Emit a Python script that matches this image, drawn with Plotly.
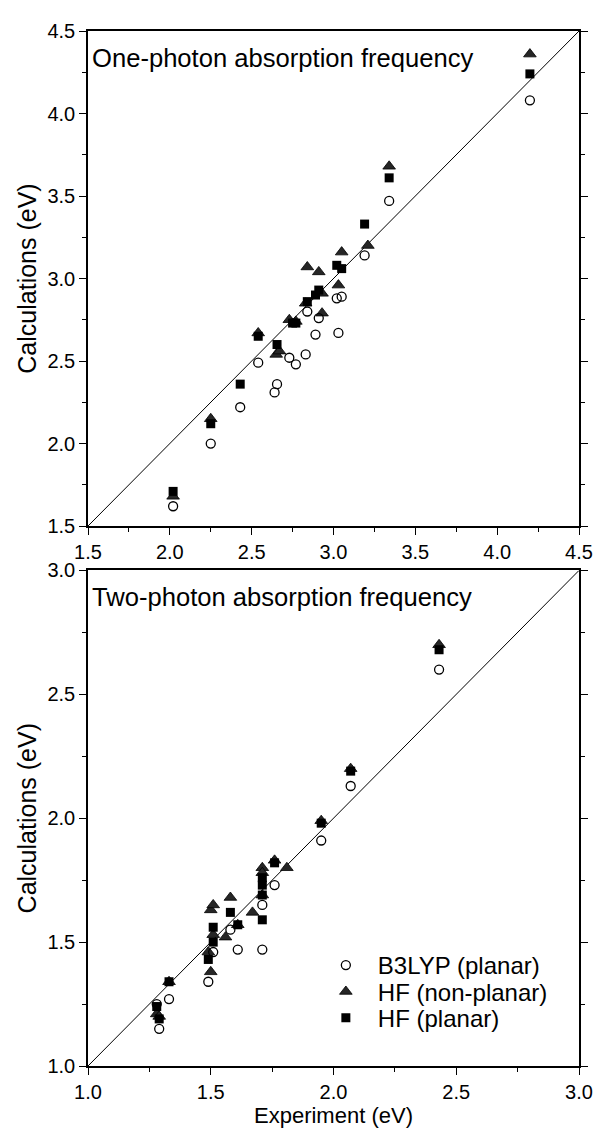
import plotly.graph_objects as go

# one-photon absorption (top panel): experiment vs calculated, eV
one_b3lyp_x = [2.02, 2.25, 2.43, 2.54, 2.655, 2.64, 2.73, 2.77, 2.83, 2.89, 2.84, 2.91, 3.02, 3.05, 3.03, 3.19, 3.34, 4.20]
one_b3lyp_y = [1.62, 2.00, 2.22, 2.49, 2.36, 2.31, 2.52, 2.48, 2.54, 2.66, 2.80, 2.76, 2.88, 2.89, 2.67, 3.14, 3.47, 4.08]
one_hfnp_x = [2.02, 2.25, 2.54, 2.65, 2.67, 2.73, 2.77, 2.83, 2.84, 2.91, 2.93, 2.93, 3.05, 3.03, 3.21, 3.34, 4.20]
one_hfnp_y = [1.68, 2.15, 2.67, 2.54, 2.56, 2.75, 2.74, 2.85, 3.07, 3.04, 2.91, 2.79, 3.16, 2.96, 3.20, 3.68, 4.36]
one_hfp_x = [2.02, 2.25, 2.43, 2.54, 2.655, 2.75, 2.77, 2.84, 2.89, 2.91, 3.02, 3.05, 3.19, 3.34, 4.20]
one_hfp_y = [1.71, 2.12, 2.36, 2.65, 2.60, 2.73, 2.73, 2.86, 2.90, 2.93, 3.08, 3.06, 3.33, 3.61, 4.24]

# two-photon absorption (bottom panel)
two_b3lyp_x = [1.29, 1.28, 1.33, 1.49, 1.51, 1.58, 1.61, 1.71, 1.71, 1.76, 1.95, 2.07, 2.43]
two_b3lyp_y = [1.15, 1.25, 1.27, 1.34, 1.46, 1.55, 1.47, 1.47, 1.65, 1.73, 1.91, 2.13, 2.60]
two_hfnp_x = [1.28, 1.29, 1.33, 1.49, 1.50, 1.50, 1.51, 1.51, 1.56, 1.58, 1.61, 1.67, 1.71, 1.71, 1.71, 1.76, 1.81, 1.95, 2.07, 2.43]
two_hfnp_y = [1.21, 1.20, 1.34, 1.46, 1.38, 1.63, 1.65, 1.53, 1.52, 1.68, 1.57, 1.62, 1.80, 1.78, 1.69, 1.83, 1.80, 1.99, 2.20, 2.70]
two_hfp_x = [1.28, 1.29, 1.33, 1.49, 1.51, 1.51, 1.58, 1.61, 1.71, 1.71, 1.71, 1.71, 1.76, 1.95, 2.07, 2.43]
two_hfp_y = [1.24, 1.19, 1.34, 1.43, 1.50, 1.56, 1.62, 1.57, 1.76, 1.73, 1.69, 1.59, 1.82, 1.98, 2.19, 2.68]

one_range = [1.5, 4.5]
two_range = [1.0, 3.0]
one_ticks = [1.5, 2.0, 2.5, 3.0, 3.5, 4.0, 4.5]
two_ticks = [1.0, 1.5, 2.0, 2.5, 3.0]

FONT = "Liberation Sans, Arial, sans-serif"

fig = go.Figure()

def add_panel(fig, xa, ya, b3x, b3y, npx, npy, px, py, rng, show_legend):
    # y = x reference line across the panel
    fig.add_trace(go.Scatter(x=rng, y=rng, mode="lines", line=dict(color="black", width=1),
                             xaxis=xa, yaxis=ya, showlegend=False, hoverinfo="skip"))
    fig.add_trace(go.Scatter(x=npx, y=npy, mode="markers", name="HF (non-planar)",
                             marker=dict(symbol="triangle-up", size=11, color="#262626",
                                         line=dict(color="black", width=0.8)),
                             xaxis=xa, yaxis=ya, showlegend=show_legend, legend="legend2"))
    fig.add_trace(go.Scatter(x=px, y=py, mode="markers", name="HF (planar)",
                             marker=dict(symbol="square", size=9, color="black"),
                             xaxis=xa, yaxis=ya, showlegend=show_legend, legend="legend3"))
    fig.add_trace(go.Scatter(x=b3x, y=b3y, mode="markers", name="B3LYP (planar)",
                             marker=dict(symbol="circle-open", size=9, color="black",
                                         line=dict(width=1.3)),
                             xaxis=xa, yaxis=ya, showlegend=show_legend, legend="legend"))

add_panel(fig, "x", "y", one_b3lyp_x, one_b3lyp_y, one_hfnp_x, one_hfnp_y,
          one_hfp_x, one_hfp_y, one_range, False)
add_panel(fig, "x2", "y2", two_b3lyp_x, two_b3lyp_y, two_hfnp_x, two_hfnp_y,
          two_hfp_x, two_hfp_y, two_range, True)

axis_common = dict(showline=True, linecolor="black", linewidth=1.5, ticks="outside",
                   ticklen=7, tickwidth=1.2, tickcolor="black", showgrid=False, zeroline=False,
                   tickfont=dict(family=FONT, size=20, color="black"),
                   minor=dict(ticks="outside", ticklen=4, tickwidth=1, tickcolor="black"))

top_dom = [0.5217, 1.0]
bot_dom = [0.0, 0.4788]
ytitle_font = dict(family=FONT, size=25, color="black")
xtitle_font = dict(family=FONT, size=22, color="black")

# one legend per row so the rows sit as tightly as in the original
legend_common = dict(x=0.46, xanchor="left", yanchor="middle", bgcolor="rgba(0,0,0,0)",
                     font=dict(family=FONT, size=24, color="black"), itemwidth=54)

# page body adds an 8px margin, so the figure is 16px smaller than the window
fig.update_layout(
    width=597, height=1124,
    margin=dict(l=80, r=15, t=12, b=51),
    paper_bgcolor="white", plot_bgcolor="white",
    font=dict(family=FONT, color="black"),
    xaxis=dict(axis_common, domain=[0, 1], range=one_range, tickvals=one_ticks,
               ticktext=["%.1f" % v for v in one_ticks], mirror=True, anchor="y"),
    yaxis=dict(axis_common, domain=top_dom, range=one_range, tickvals=one_ticks,
               ticktext=["%.1f" % v for v in one_ticks], mirror="ticks", anchor="x",
               title=dict(text="Calculations (eV)", font=ytitle_font, standoff=4)),
    xaxis2=dict(axis_common, domain=[0, 1], range=two_range, tickvals=two_ticks,
                ticktext=["%.1f" % v for v in two_ticks], mirror=True, anchor="y2",
                title=dict(text="Experiment (eV)", font=xtitle_font, standoff=2)),
    yaxis2=dict(axis_common, domain=bot_dom, range=two_range, tickvals=two_ticks,
                ticktext=["%.1f" % v for v in two_ticks], mirror="ticks", anchor="x2",
                title=dict(text="Calculations (eV)", font=ytitle_font, standoff=4)),
    legend=dict(legend_common, y=0.0971),
    legend2=dict(legend_common, y=0.0716),
    legend3=dict(legend_common, y=0.0462),
    annotations=[
        dict(text="One-photon absorption frequency", xref="paper", yref="paper",
             x=0.004, y=0.9896, xanchor="left", yanchor="top", showarrow=False,
             font=dict(family=FONT, size=25.6, color="black")),
        dict(text="Two-photon absorption frequency", xref="paper", yref="paper",
             x=0.004, y=0.4684, xanchor="left", yanchor="top", showarrow=False,
             font=dict(family=FONT, size=25.6, color="black")),
    ],
)

# minor ticks halfway between the labelled ticks
fig.update_layout(xaxis_minor_dtick=0.25, yaxis_minor_dtick=0.25,
                  xaxis2_minor_dtick=0.25, yaxis2_minor_dtick=0.25,
                  xaxis_minor_tick0=1.5, yaxis_minor_tick0=1.5,
                  xaxis2_minor_tick0=1.0, yaxis2_minor_tick0=1.0)

fig.write_html("out.html")
